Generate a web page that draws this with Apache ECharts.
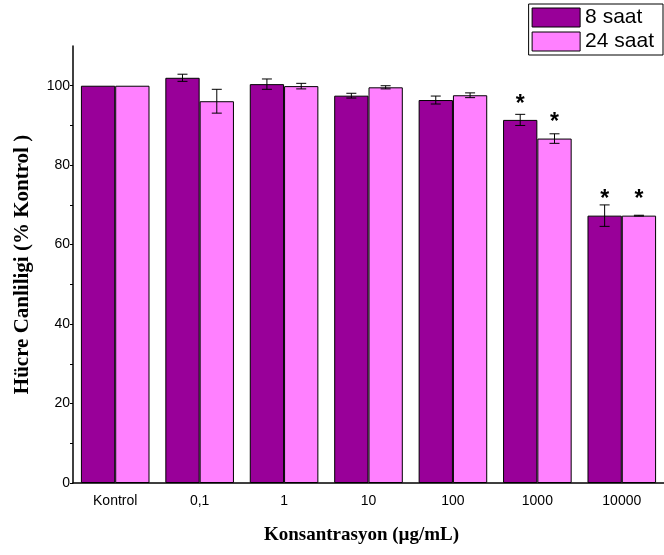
<!DOCTYPE html>
<html>
<head>
<meta charset="utf-8">
<script src="https://cdn.jsdelivr.net/npm/echarts@6/dist/echarts.min.js"></script>
<style>
  html, body { margin: 0; padding: 0; background: #fff; }
  #chart { width: 664px; height: 555px; }
</style>
</head>
<body>
<div id="chart"></div>
<script>
// degerler
var categories = ["Kontrol", "0,1", "1", "10", "100", "1000", "10000"];
var saat8 = [100, 102.0, 100.4, 97.5, 96.4, 91.4, 67.3];
var saat8Err = [0, 0.9, 1.3, 0.6, 1.0, 1.4, 2.7];
var saat24 = [100, 96.1, 99.9, 99.6, 97.6, 86.7, 67.3];
var saat24Err = [0, 3.0, 0.7, 0.4, 0.6, 1.2, 0.1];
var sig8 = [0, 0, 0, 0, 0, 1, 1];
var sig24 = [0, 0, 0, 0, 0, 1, 1];
var yLabels = [0, 20, 40, 60, 80, 100];
var yTicks = [0, 10, 20, 30, 40, 50, 60, 70, 80, 90, 100];

var barW = 34.3;

function errData(vals, errs) {
  var out = [];
  for (var i = 0; i < vals.length; i++) {
    if (errs[i] > 0) out.push([i, vals[i] - errs[i], vals[i] + errs[i]]);
  }
  return out;
}

function errRender(offset) {
  return function (params, api) {
    var i = api.value(0);
    var lo = api.coord([i, api.value(1)]);
    var hi = api.coord([i, api.value(2)]);
    var x = lo[0] + offset;
    var cap = 5;
    var st = { stroke: "#000", lineWidth: 1 };
    return {
      type: "group",
      children: [
        { type: "line", shape: { x1: x, y1: lo[1], x2: x, y2: hi[1] }, style: st },
        { type: "line", shape: { x1: x - cap, y1: lo[1], x2: x + cap, y2: lo[1] }, style: st },
        { type: "line", shape: { x1: x - cap, y1: hi[1], x2: x + cap, y2: hi[1] }, style: st }
      ]
    };
  };
}

function starLabel(sig) {
  return {
    show: true,
    position: "top",
    distance: 4,
    color: "#000",
    fontFamily: "Arial, Liberation Sans",
    fontWeight: "bold",
    fontSize: 23,
    formatter: function (p) { return sig[p.dataIndex] ? "*" : ""; }
  };
}

var myChart = echarts.init(document.getElementById("chart"));
var option = {
  animation: false,
  grid: { left: 73, right: 0, top: 46, bottom: 72 },
  legend: {
    orient: "vertical",
    right: 1,
    top: 4,
    icon: "rect",
    itemWidth: 48,
    itemHeight: 19,
    itemGap: 3,
    padding: [3, 9, 3, 3],
    borderColor: "#000",
    borderWidth: 1,
    itemStyle: { borderColor: "#000", borderWidth: 1 },
    textStyle: { fontFamily: "Arial, Liberation Sans", fontSize: 21, color: "#000", lineHeight: 21 },
    data: ["8 saat", "24 saat"]
  },
  xAxis: {
    type: "category",
    data: categories,
    name: "Konsantrasyon (µg/mL)",
    nameLocation: "middle",
    nameGap: 43,
    nameTextStyle: { fontFamily: "Liberation Serif, Times New Roman", fontWeight: "bold", fontSize: 19, color: "#000", padding: [0, 14, 0, 0] },
    axisLine: { lineStyle: { color: "#000", width: 1.5 } },
    axisTick: { show: false },
    axisLabel: { color: "#000", fontFamily: "Arial, Liberation Sans", fontSize: 14, margin: 11 }
  },
  yAxis: {
    type: "value",
    min: 0,
    max: 110,
    name: "Hücre Canliligi (% Kontrol )",
    nameLocation: "middle",
    nameGap: 40,
    nameTextStyle: { fontFamily: "Liberation Serif, Times New Roman", fontWeight: "bold", fontSize: 21, color: "#000" },
    axisLine: { show: true, lineStyle: { color: "#000", width: 1.5 } },
    axisTick: { show: true, length: 3, customValues: yTicks, lineStyle: { color: "#000" } },
    axisLabel: { color: "#000", fontFamily: "Arial, Liberation Sans", fontSize: 14, margin: 3, customValues: yLabels },
    splitLine: { show: false }
  },
  series: [
    {
      name: "8 saat",
      type: "bar",
      barWidth: barW,
      barGap: "0%",
      data: saat8,
      itemStyle: { color: "#990099", borderColor: "#000", borderWidth: 1 },
      label: starLabel(sig8)
    },
    {
      name: "24 saat",
      type: "bar",
      barWidth: barW,
      barGap: "0%",
      data: saat24,
      itemStyle: { color: "#ff80ff", borderColor: "#000", borderWidth: 1 },
      label: starLabel(sig24)
    },
    {
      type: "custom",
      renderItem: errRender(-barW / 2),
      data: errData(saat8, saat8Err),
      encode: { x: 0, y: [1, 2] },
      z: 5
    },
    {
      type: "custom",
      renderItem: errRender(barW / 2),
      data: errData(saat24, saat24Err),
      encode: { x: 0, y: [1, 2] },
      z: 5
    }
  ]
};
myChart.setOption(option);
</script>
</body>
</html>
